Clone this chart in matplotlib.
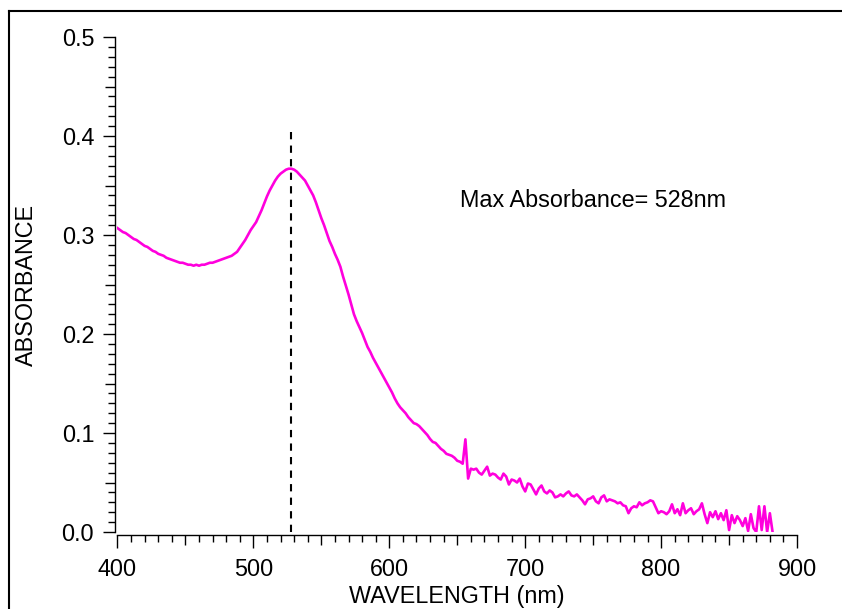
import numpy as np
import matplotlib
matplotlib.use("Agg")
import matplotlib.pyplot as plt
from matplotlib.ticker import MultipleLocator
from matplotlib.lines import Line2D

plt.rcParams['font.family'] = ['Liberation Sans', 'DejaVu Sans']

# spectrum sampled every 2 nm from 400 to 880 nm
wl_start = 400
wl_step = 2
absorbance = [
    0.307, 0.305, 0.303, 0.302, 0.300, 0.298, 0.296, 0.295, 0.293, 0.291,
    0.289, 0.288, 0.286, 0.284, 0.283, 0.281, 0.280, 0.279, 0.277, 0.276,
    0.275, 0.274, 0.273, 0.272, 0.272, 0.271, 0.270, 0.270, 0.269, 0.270,
    0.269, 0.270, 0.270, 0.271, 0.272, 0.272, 0.273, 0.274, 0.275, 0.276,
    0.277, 0.278, 0.279, 0.281, 0.283, 0.287, 0.291, 0.295, 0.300, 0.305,
    0.309, 0.313, 0.319, 0.325, 0.332, 0.339, 0.345, 0.350, 0.355, 0.359,
    0.362, 0.364, 0.366, 0.367, 0.367, 0.366, 0.364, 0.361, 0.358, 0.355,
    0.350, 0.345, 0.340, 0.333, 0.325, 0.317, 0.310, 0.302, 0.294, 0.288,
    0.281, 0.275, 0.268, 0.258, 0.249, 0.240, 0.230, 0.220, 0.213, 0.207,
    0.201, 0.194, 0.187, 0.182, 0.176, 0.171, 0.166, 0.161, 0.156, 0.151,
    0.146, 0.141, 0.135, 0.130, 0.126, 0.123, 0.120, 0.116, 0.113, 0.110,
    0.109, 0.107, 0.104, 0.101, 0.098, 0.094, 0.091, 0.090, 0.087, 0.084,
    0.082, 0.079, 0.078, 0.077, 0.075, 0.072, 0.071, 0.069, 0.0936, 0.054,
    0.064, 0.063, 0.064, 0.060, 0.058, 0.062, 0.066, 0.057, 0.059, 0.058,
    0.055, 0.053, 0.059, 0.056, 0.048, 0.053, 0.052, 0.050, 0.054, 0.046,
    0.041, 0.049, 0.048, 0.043, 0.038, 0.044, 0.047, 0.041, 0.039, 0.042,
    0.040, 0.035, 0.036, 0.038, 0.036, 0.039, 0.041, 0.037, 0.036, 0.038,
    0.035, 0.032, 0.028, 0.033, 0.034, 0.036, 0.031, 0.029, 0.035, 0.037,
    0.031, 0.033, 0.032, 0.031, 0.029, 0.030, 0.027, 0.026, 0.019, 0.024,
    0.026, 0.025, 0.030, 0.027, 0.029, 0.030, 0.032, 0.031, 0.025, 0.019,
    0.021, 0.020, 0.018, 0.021, 0.028, 0.019, 0.023, 0.017, 0.029, 0.019,
    0.022, 0.024, 0.018, 0.021, 0.023, 0.029, 0.018, 0.009, 0.020, 0.015,
    0.021, 0.013, 0.019, 0.012, 0.022, 0.002, 0.017, 0.009, 0.016, 0.012,
    0.006, 0.014, 0.001, 0.018, 0.004, 0.000, 0.026, 0.002, 0.026, 0.000,
    0.019, 0.000,
]
wavelength = wl_start + wl_step * np.arange(len(absorbance))

peak_wl = 528
peak_top = 0.41
note = "Max Absorbance= 528nm"

fig = plt.figure(figsize=(8.42, 6.09), dpi=100)
ax = fig.add_axes([0.1395, 0.1264, 0.8071, 0.8128])

ax.plot(wavelength, absorbance, color='#ff00dd', lw=1.9)
ax.plot([peak_wl, peak_wl], [0, peak_top], color='black', lw=1.5,
        linestyle=(0, (3.5, 3)))

ax.text(652, 0.335, note, fontsize=16.8, va='center', ha='left')

ax.set_xlim(400, 900)
ax.set_ylim(0, 0.5)

for side in ['top', 'right']:
    ax.spines[side].set_visible(False)
for side in ['left', 'bottom']:
    ax.spines[side].set_position(('outward', 1.8))
    ax.spines[side].set_linewidth(1.0)

ax.xaxis.set_major_locator(MultipleLocator(100))
ax.xaxis.set_minor_locator(MultipleLocator(10))
ax.yaxis.set_major_locator(MultipleLocator(0.1))
ax.yaxis.set_minor_locator(MultipleLocator(0.01))
ax.yaxis.set_major_formatter(plt.FormatStrFormatter('%.1f'))

ax.tick_params(which='major', direction='out', length=9, width=1.0,
               labelsize=16.8, pad=6)
ax.tick_params(axis='x', which='major', pad=8)
ax.tick_params(which='minor', direction='out', length=5, width=1.0)

# medium ticks at the halfway marks
for axis, step in [(ax.xaxis, 50), (ax.yaxis, 0.05)]:
    locs = axis.get_minorticklocs()
    for loc, t in zip(locs, axis.get_minor_ticks(len(locs))):
        if abs(loc / step - round(loc / step)) < 1e-6:
            t.tick1line.set_markersize(7)

ax.set_xlabel("WAVELENGTH (nm)", fontsize=16.8, labelpad=2.5)
ax.set_ylabel("ABSORBANCE", fontsize=16.8, labelpad=17)

# page frame (top and left edges)
fig.add_artist(Line2D([0.0101, 1.0], [0.982, 0.982], color='black', lw=1.5,
                      transform=fig.transFigure))
fig.add_artist(Line2D([0.0101, 0.0101], [0.0, 0.982], color='black', lw=1.5,
                      transform=fig.transFigure))

fig.savefig("out.png", dpi=100)
